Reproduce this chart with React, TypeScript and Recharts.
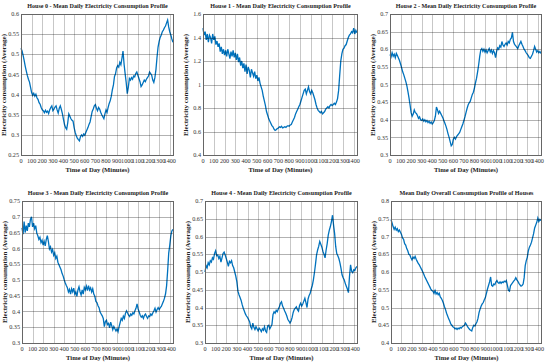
import { LineChart, Line, XAxis, YAxis } from 'recharts';

// time of day, minutes (one point every 10 min)
const minutes = [
  0, 10, 20, 30, 40, 50, 60, 70, 80, 90, 100, 110, 120, 130, 140, 150, 160, 170, 180, 190,
  200, 210, 220, 230, 240, 250, 260, 270, 280, 290, 300, 310, 320, 330, 340, 350, 360, 370, 380, 390,
  400, 410, 420, 430, 440, 450, 460, 470, 480, 490, 500, 510, 520, 530, 540, 550, 560, 570, 580, 590,
  600, 610, 620, 630, 640, 650, 660, 670, 680, 690, 700, 710, 720, 730, 740, 750, 760, 770, 780, 790,
  800, 810, 820, 830, 840, 850, 860, 870, 880, 890, 900, 910, 920, 930, 940, 950, 960, 970, 980, 990,
  1000, 1010, 1020, 1030, 1040, 1050, 1060, 1070, 1080, 1090, 1100, 1110, 1120, 1130, 1140, 1150, 1160, 1170, 1180, 1190,
  1200, 1210, 1220, 1230, 1240, 1250, 1260, 1270, 1280, 1290, 1300, 1310, 1320, 1330, 1340, 1350, 1360, 1370, 1380, 1390,
  1400, 1410, 1420, 1430,
];

const house0 = [
  0.515, 0.508, 0.497, 0.484, 0.47, 0.458, 0.447, 0.438, 0.431, 0.418,
  0.405, 0.398, 0.403, 0.396, 0.401, 0.392, 0.388, 0.38, 0.376, 0.368,
  0.362, 0.36, 0.355, 0.361, 0.356, 0.359, 0.353, 0.362, 0.368, 0.372,
  0.36, 0.364, 0.369, 0.372, 0.362, 0.354, 0.366, 0.372, 0.363, 0.352,
  0.338, 0.325, 0.318, 0.314, 0.33, 0.352, 0.346, 0.34, 0.336, 0.334,
  0.318, 0.306, 0.298, 0.292, 0.288, 0.285, 0.296, 0.3, 0.296, 0.302,
  0.299, 0.306, 0.312, 0.318, 0.326, 0.332, 0.345, 0.358, 0.364, 0.372,
  0.375, 0.366, 0.36, 0.368, 0.364, 0.356, 0.35, 0.345, 0.34, 0.352,
  0.362, 0.356, 0.368, 0.378, 0.385, 0.396, 0.412, 0.424, 0.445, 0.452,
  0.466, 0.472, 0.468, 0.48, 0.474, 0.49, 0.508, 0.476, 0.452, 0.43,
  0.402, 0.418, 0.44, 0.436, 0.442, 0.438, 0.446, 0.444, 0.452, 0.456,
  0.448, 0.44, 0.432, 0.42, 0.424, 0.43, 0.436, 0.432, 0.438, 0.442,
  0.446, 0.456, 0.452, 0.448, 0.436, 0.43, 0.442, 0.462, 0.492, 0.518,
  0.532, 0.542, 0.548, 0.556, 0.56, 0.566, 0.57, 0.578, 0.585, 0.568,
  0.556, 0.548, 0.538, 0.53,
];

const house1 = [
  1.48, 1.42, 1.45, 1.38, 1.43, 1.36, 1.42, 1.4, 1.35, 1.43,
  1.38, 1.41, 1.34, 1.37, 1.32, 1.35, 1.28, 1.32, 1.26, 1.3,
  1.25, 1.29, 1.24, 1.3, 1.26, 1.22, 1.28, 1.24, 1.29, 1.23,
  1.27, 1.21, 1.26, 1.19, 1.23, 1.16, 1.2, 1.14, 1.18, 1.11,
  1.17, 1.09, 1.15, 1.12, 1.06, 1.13, 1.1, 1.07, 1.11, 1.05,
  1.08, 1.03, 1.06, 1.01, 0.98, 0.95, 0.9, 0.86, 0.82, 0.77,
  0.74, 0.71, 0.69, 0.67, 0.65, 0.64, 0.62, 0.61, 0.615, 0.625,
  0.63, 0.64, 0.635, 0.645, 0.63, 0.635, 0.64, 0.635, 0.645, 0.65,
  0.645, 0.655, 0.66, 0.68, 0.7, 0.72, 0.75, 0.77, 0.79, 0.81,
  0.83, 0.86, 0.89, 0.92, 0.95, 0.96, 0.92, 0.95, 0.98, 0.94,
  0.92, 0.95, 0.93, 0.9, 0.87, 0.83, 0.8, 0.78, 0.77, 0.76,
  0.77, 0.75, 0.76, 0.77, 0.79, 0.8, 0.81, 0.8, 0.82, 0.83,
  0.82, 0.83, 0.84, 0.83, 0.85, 0.88, 0.95, 1.08, 1.2, 1.26,
  1.3, 1.31, 1.33, 1.34, 1.37, 1.4, 1.42, 1.43, 1.45, 1.44,
  1.48, 1.43, 1.46, 1.44,
];

const house2 = [
  0.585, 0.578, 0.59, 0.58, 0.586, 0.576, 0.588, 0.582, 0.575, 0.568,
  0.558, 0.548, 0.536, 0.528, 0.518, 0.508, 0.496, 0.48, 0.462, 0.442,
  0.42, 0.41, 0.416, 0.428, 0.42, 0.418, 0.412, 0.404, 0.408, 0.4,
  0.398, 0.402, 0.396, 0.4, 0.394, 0.398, 0.392, 0.396, 0.39, 0.394,
  0.388, 0.392, 0.398, 0.41, 0.436, 0.428, 0.418, 0.424, 0.418, 0.412,
  0.406, 0.398, 0.39, 0.382, 0.372, 0.36, 0.35, 0.338, 0.326, 0.33,
  0.345, 0.35, 0.345, 0.352, 0.356, 0.36, 0.364, 0.372, 0.38, 0.388,
  0.398, 0.408, 0.42, 0.432, 0.442, 0.448, 0.452, 0.462, 0.472, 0.478,
  0.49, 0.505, 0.518, 0.536, 0.556, 0.58, 0.598, 0.602, 0.594, 0.6,
  0.592, 0.598, 0.59, 0.596, 0.602, 0.592, 0.598, 0.588, 0.596, 0.59,
  0.576, 0.594, 0.604, 0.6, 0.61, 0.606, 0.622, 0.612, 0.608, 0.614,
  0.618, 0.612, 0.622, 0.618, 0.628, 0.632, 0.648, 0.622, 0.614, 0.61,
  0.606, 0.602, 0.61, 0.616, 0.622, 0.614, 0.608, 0.6, 0.596, 0.59,
  0.586, 0.582, 0.576, 0.574, 0.58, 0.586, 0.596, 0.608, 0.6, 0.592,
  0.596, 0.59, 0.594, 0.588,
];

const house3 = [
  0.665, 0.645, 0.685, 0.65, 0.672, 0.655, 0.68, 0.668, 0.692, 0.7,
  0.668, 0.68, 0.662, 0.672, 0.648, 0.64, 0.628, 0.635, 0.618, 0.626,
  0.61, 0.622, 0.608, 0.628, 0.64, 0.622, 0.598, 0.605, 0.588, 0.596,
  0.578, 0.586, 0.568, 0.575, 0.556, 0.548, 0.54, 0.532, 0.52, 0.512,
  0.5, 0.49, 0.482, 0.475, 0.462, 0.47, 0.455, 0.472, 0.462, 0.474,
  0.455, 0.462, 0.448, 0.468, 0.478, 0.462, 0.452, 0.468, 0.455, 0.476,
  0.468, 0.48, 0.466, 0.482, 0.468, 0.475, 0.462, 0.472, 0.455, 0.448,
  0.432, 0.428, 0.418, 0.412, 0.398, 0.392, 0.386, 0.378, 0.352, 0.368,
  0.372, 0.358, 0.362, 0.348, 0.366, 0.355, 0.342, 0.352, 0.345, 0.338,
  0.345, 0.336, 0.352, 0.365, 0.378, 0.372, 0.385, 0.378, 0.394, 0.402,
  0.395, 0.388, 0.384, 0.392, 0.388, 0.396, 0.392, 0.402, 0.41, 0.424,
  0.408, 0.398, 0.388, 0.382, 0.386, 0.378, 0.388, 0.392, 0.384, 0.378,
  0.386, 0.384, 0.392, 0.388, 0.396, 0.402, 0.41, 0.398, 0.406, 0.412,
  0.406, 0.412, 0.416, 0.424, 0.432, 0.442, 0.456, 0.482, 0.53, 0.585,
  0.61, 0.64, 0.655, 0.66,
];

const house4 = [
  0.5, 0.518, 0.512, 0.526, 0.52, 0.532, 0.528, 0.54, 0.536, 0.552,
  0.56, 0.546, 0.548, 0.538, 0.544, 0.528, 0.54, 0.552, 0.556, 0.548,
  0.538, 0.528, 0.516, 0.53, 0.526, 0.532, 0.518, 0.512, 0.5, 0.488,
  0.472, 0.446, 0.436, 0.428, 0.42, 0.408, 0.398, 0.39, 0.382, 0.376,
  0.372, 0.366, 0.36, 0.346, 0.34, 0.356, 0.344, 0.338, 0.346, 0.34,
  0.334, 0.342, 0.338, 0.332, 0.34, 0.336, 0.346, 0.334, 0.33, 0.348,
  0.35, 0.34, 0.346, 0.352, 0.38, 0.388, 0.384, 0.392, 0.388, 0.396,
  0.402, 0.412, 0.416, 0.404, 0.398, 0.39, 0.384, 0.376, 0.366, 0.362,
  0.356, 0.362, 0.372, 0.386, 0.394, 0.398, 0.402, 0.394, 0.39, 0.406,
  0.412, 0.404, 0.41, 0.418, 0.426, 0.414, 0.4, 0.424, 0.434, 0.44,
  0.452, 0.462, 0.478, 0.498, 0.522, 0.548, 0.562, 0.572, 0.586, 0.578,
  0.57, 0.558, 0.55, 0.54, 0.562, 0.58, 0.604, 0.618, 0.628, 0.642,
  0.66, 0.632, 0.608, 0.572, 0.552, 0.546, 0.538, 0.526, 0.51, 0.492,
  0.484, 0.478, 0.468, 0.46, 0.452, 0.442, 0.488, 0.52, 0.502, 0.498,
  0.506, 0.504, 0.512, 0.516,
];

const overall = [
  0.748, 0.738, 0.728, 0.72, 0.726, 0.718, 0.722, 0.714, 0.718, 0.712,
  0.706, 0.696, 0.692, 0.68, 0.676, 0.666, 0.66, 0.65, 0.648, 0.64,
  0.634, 0.642, 0.638, 0.644, 0.636, 0.63, 0.624, 0.62, 0.614, 0.608,
  0.602, 0.596, 0.588, 0.582, 0.576, 0.57, 0.564, 0.558, 0.552, 0.548,
  0.546, 0.54, 0.548, 0.538, 0.542, 0.536, 0.54, 0.53, 0.526, 0.52,
  0.512, 0.502, 0.494, 0.484, 0.476, 0.468, 0.462, 0.454, 0.45, 0.446,
  0.444, 0.44, 0.442, 0.438, 0.442, 0.44, 0.444, 0.442, 0.446, 0.448,
  0.45, 0.456, 0.452, 0.446, 0.442, 0.438, 0.436, 0.434, 0.444, 0.45,
  0.448, 0.454, 0.46, 0.47, 0.486, 0.496, 0.504, 0.51, 0.514, 0.522,
  0.528, 0.54, 0.552, 0.562, 0.572, 0.586, 0.562, 0.56, 0.566, 0.564,
  0.572, 0.576, 0.57, 0.568, 0.572, 0.568, 0.572, 0.57, 0.574, 0.572,
  0.576, 0.562, 0.548, 0.546, 0.562, 0.566, 0.57, 0.574, 0.578, 0.584,
  0.578, 0.574, 0.568, 0.564, 0.56, 0.562, 0.566, 0.584, 0.618, 0.632,
  0.642, 0.66, 0.67, 0.676, 0.684, 0.696, 0.708, 0.724, 0.732, 0.74,
  0.752, 0.742, 0.748, 0.745,
];

const xTicks = [0, 100, 200, 300, 400, 500, 600, 700, 800, 900, 1000, 1100, 1200, 1300, 1400];
const ticks0 = [0.25, 0.3, 0.35, 0.4, 0.45, 0.5, 0.55, 0.6];
const ticks1 = [0.4, 0.6, 0.8, 1, 1.2, 1.4, 1.6];
const ticks2 = [0.3, 0.35, 0.4, 0.45, 0.5, 0.55, 0.6, 0.65, 0.7];
const ticks3 = [0.3, 0.35, 0.4, 0.45, 0.5, 0.55, 0.6, 0.65, 0.7, 0.75];
const ticks4 = [0.3, 0.35, 0.4, 0.45, 0.5, 0.55, 0.6, 0.65, 0.7];
const ticks5 = [0.4, 0.45, 0.5, 0.55, 0.6, 0.65, 0.7, 0.75, 0.8];

const titles = [
  'House 0 - Mean Daily Electricity Consumption Profile',
  'House 1 - Mean Daily Electricity Consumption Profile',
  'House 2 - Mean Daily Electricity Consumption Profile',
  'House 3 - Mean Daily Electricity Consumption Profile',
  'House 4 - Mean Daily Electricity Consumption Profile',
  'Mean Daily Overall Consumption Profile of Houses',
];

const SERIF = '"Liberation Serif", "DejaVu Serif", serif';
const X_MAX = 1440;
const L = 30;
const T = 4;

interface PanelProps {
  title: string;
  values: number[];
  ticks: number[];
  x: number;
  y: number;
  w: number;
  h: number;
}

function Panel({ title, values, ticks, x, y, w, h }: PanelProps) {
  const data = minutes.map((m, i) => ({ m, v: values[i] }));
  const yMin = ticks[0];
  const yMax = ticks[ticks.length - 1];
  // default tickSize/tickMargin push labels 8px out; nudge them back toward the box
  const xTickStyle = { fontSize: 6.2, fill: '#333', dy: -4 };
  const yTickStyle = { fontSize: 6.2, fill: '#333', dx: 6 };
  return (
    <>
      <div
        style={{
          position: 'absolute', left: x - 10, width: w + 20, top: y - 12,
          textAlign: 'center', fontFamily: SERIF, fontWeight: 'bold', fontSize: 6.1,
          color: '#222', whiteSpace: 'nowrap', lineHeight: '9px',
        }}
      >
        {title}
      </div>
      <div style={{ position: 'absolute', left: x - L, top: y - T, fontFamily: SERIF }}>
        <LineChart
          width={w + L + 4}
          height={h + T + 20}
          data={data}
          margin={{ top: T, right: 4, bottom: 0, left: 0 }}
        >
          <XAxis
            dataKey="m"
            type="number"
            domain={[0, X_MAX]}
            ticks={xTicks}
            interval={0}
            height={20}
            tickLine={false}
            axisLine={false}
            tick={xTickStyle}
          />
          <YAxis
            type="number"
            domain={[yMin, yMax]}
            ticks={ticks}
            interval={0}
            width={L}
            tickLine={false}
            axisLine={false}
            tick={yTickStyle}
          />
          <Line
            type="linear"
            dataKey="v"
            stroke="#0072BD"
            strokeWidth={1.3}
            dot={false}
            isAnimationActive={false}
          />
        </LineChart>
      </div>
      {/* grid, laid over the chart with translucent strokes so the curve shows through */}
      {xTicks.map((t) => (
        <div
          key={'gx' + t}
          style={{
            position: 'absolute', left: Math.round(x + (t / X_MAX) * w), top: y,
            width: 1, height: h, background: 'rgba(0,0,0,0.22)', pointerEvents: 'none',
          }}
        />
      ))}
      {ticks.map((t) => (
        <div
          key={'gy' + t}
          style={{
            position: 'absolute', left: x, width: w, height: 1,
            top: Math.round(y + h - ((t - yMin) / (yMax - yMin)) * h),
            background: 'rgba(0,0,0,0.3)', pointerEvents: 'none',
          }}
        />
      ))}
      <div
        style={{
          position: 'absolute', left: x, top: y, width: w, height: h + 1,
          border: '1px solid #666', boxSizing: 'border-box', pointerEvents: 'none',
        }}
      />
      <div
        style={{
          position: 'absolute', left: x, width: w, top: y + h + 10,
          textAlign: 'center', fontFamily: SERIF, fontWeight: 'bold', fontSize: 6.6,
          color: '#222', whiteSpace: 'nowrap', lineHeight: '9px',
        }}
      >
        Time of Day (Minutes)
      </div>
      <div
        style={{
          position: 'absolute', left: x - 17 - 80, top: y + h / 2 - 5, width: 160,
          textAlign: 'center', fontFamily: SERIF, fontWeight: 'bold', fontSize: 7,
          color: '#222', whiteSpace: 'nowrap', lineHeight: '10px',
          transform: 'rotate(-90deg)',
        }}
      >
        Electricity consumption (Average)
      </div>
    </>
  );
}

export default function App() {
  return (
    <div style={{ position: 'absolute', left: 0, top: 0, width: 550, height: 364, background: '#fff' }}>
      <Panel title={titles[0]} values={house0} ticks={ticks0} x={21} y={14} w={153} h={141} />
      <Panel title={titles[1]} values={house1} ticks={ticks1} x={203} y={14} w={155} h={141} />
      <Panel title={titles[2]} values={house2} ticks={ticks2} x={390} y={14} w={152} h={141} />
      <Panel title={titles[3]} values={house3} ticks={ticks3} x={22} y={201} w={152} h={142} />
      <Panel title={titles[4]} values={house4} ticks={ticks4} x={205} y={201} w={153} h={142} />
      <Panel title={titles[5]} values={overall} ticks={ticks5} x={391} y={201} w={151} h={142} />
    </div>
  );
}
